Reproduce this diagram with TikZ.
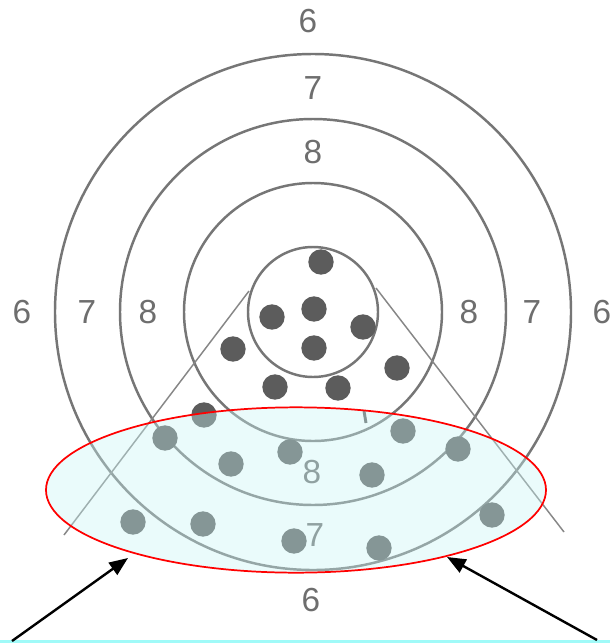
\documentclass[tikz,border=0pt]{standalone}
\usepackage{fontspec}
\setmainfont{Liberation Sans}
\usetikzlibrary{shapes.geometric,arrows.meta}
\definecolor{ringgray}{RGB}{118,118,118}
\definecolor{dotgray}{RGB}{92,92,92}
\definecolor{labgray}{RGB}{110,110,110}
\definecolor{vgray}{RGB}{135,135,135}
\definecolor{zonefill}{RGB}{200,245,245}
\definecolor{stripcyan}{RGB}{160,250,248}
\tikzset{
  ring/.style={draw=ringgray, line width=1.85pt},
  vline/.style={draw=vgray, line width=1.1pt},
  dot/.style={circle, fill=dotgray, minimum size=19pt, inner sep=0pt},
  lab/.style={text=labgray, inner sep=0pt, font=\fontsize{25}{25}\selectfont},
  zone/.style={ellipse, draw=red, line width=1.3pt, fill=zonefill, fill opacity=0.38, draw opacity=1, inner sep=0pt, minimum width=375pt, minimum height=124pt},
  arr/.style={draw=black, line width=1.8pt, -{Triangle[length=14pt,width=11pt]}}
}
\begin{document}
\begin{tikzpicture}[x=0.75pt,y=-0.75pt]
\useasboundingbox (0,0) rectangle (610,643);
\fill[white] (0,0) rectangle (610,643);
\fill[stripcyan] (0,640) rectangle (610,643);
% rings
\coordinate (c) at (313,312);
\draw[ring] (c) circle[radius=48.75pt];
\draw[ring] (c) circle[radius=96.75pt];
\draw[ring] (c) circle[radius=144.75pt];
\draw[ring] (c) circle[radius=193.5pt];
% V lines
\coordinate (vl1) at (249,291);
\coordinate (vl2) at (64,535);
\coordinate (vr1) at (376,288);
\coordinate (vr2) at (564,532);
\draw[vline] (vl1) -- (vl2);
\draw[vline] (vr1) -- (vr2);
% dots
\node[dot] (d1) at (321,262) {};
\node[dot] (d2) at (314,309) {};
\node[dot] (d3) at (272,317) {};
\node[dot] (d4) at (363,327) {};
\node[dot] (d5) at (314,348) {};
\node[dot] (d6) at (233,349) {};
\node[dot] (d7) at (397,368) {};
\node[dot] (d8) at (275,387) {};
\node[dot] (d9) at (338,388) {};
\node[dot] (d10) at (204,415) {};
\node[dot] (d11) at (165,438) {};
\node[dot] (d12) at (290,452) {};
\node[dot] (d13) at (231,464) {};
\node[dot] (d14) at (403,431) {};
\node[dot] (d15) at (458,449) {};
\node[dot] (d16) at (372,475) {};
\node[dot] (d17) at (133,522) {};
\node[dot] (d18) at (203,524) {};
\node[dot] (d19) at (294,541) {};
\node[dot] (d20) at (379,548) {};
\node[dot] (d21) at (492,515) {};
\coordinate (m1) at (364,411);
\coordinate (m2) at (366,423);
\draw[dotgray, line width=2.2pt] (m1) -- (m2);
% labels
\node[lab] (t6) at (308,21) {6};
\node[lab] (t7) at (313,88) {7};
\node[lab] (t8) at (313,152) {8};
\node[lab] (l6) at (22,312) {6};
\node[lab] (l7) at (87,312) {7};
\node[lab] (l8) at (148,312) {8};
\node[lab] (r8) at (469,312) {8};
\node[lab] (r7) at (532,312) {7};
\node[lab] (r6) at (602,312) {6};
\node[lab] (b8) at (312,472) {8};
\node[lab] (b7) at (315,535) {7};
\node[lab] (b6) at (311,600) {6};
% highlighted zone
\node[zone] (z) at (296,490) {};
% arrows
\coordinate (a1s) at (12,641);
\coordinate (a1t) at (128,558);
\coordinate (a2s) at (597,640);
\coordinate (a2t) at (447,557);
\draw[arr] (a1s) -- (a1t);
\draw[arr] (a2s) -- (a2t);
\end{tikzpicture}
\end{document}
